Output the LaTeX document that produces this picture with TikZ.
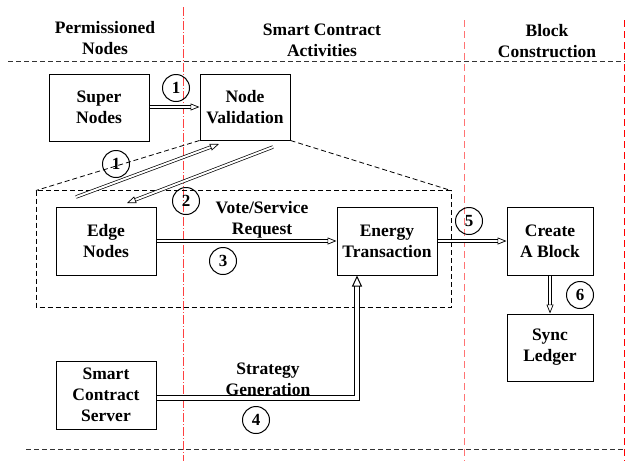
\documentclass[tikz,border=0pt]{standalone}
\usepackage{fontspec}
\setmainfont{Liberation Serif}
\usetikzlibrary{arrows.meta}

\tikzset{
    box/.style={draw, line width=1pt, align=center, inner sep=0pt,
        font=\fontsize{17.5}{21}\selectfont\bfseries},
    head/.style={align=center, font=\fontsize{17.5}{21}\selectfont\bfseries},
    num/.style={draw, circle, line width=1pt, minimum size=27pt, inner sep=0pt,
        font=\fontsize{17}{17}\selectfont\bfseries},
    flow/.style={double=white, double distance=2pt, line width=0.7pt,
        -{Triangle[open, length=9pt, width=7pt]}},
    bigflow/.style={double=white, double distance=3.5pt, line width=1pt,
        -{Triangle[open, length=11pt, width=10pt]}},
    sep/.style={dash pattern=on 5pt off 3pt, line width=1pt, black!80},
    group/.style={dash pattern=on 5pt off 3pt, line width=0.8pt},
}

\begin{document}
\begin{tikzpicture}[x=1pt, y=-1pt]
    \useasboundingbox (0,0) rectangle (631,461);
    % lanes
    \draw[red!75, line width=0.9pt, dash pattern=on 9pt off 2pt on 1pt off 2pt] (183,7) -- (183,461);
    \draw[red!55, line width=1pt, dash pattern=on 7pt off 4pt] (464,20) -- (464,461);
    \draw[red, line width=0.9pt, dash pattern=on 7pt off 4pt] (624,20) -- (624,461);
    \draw[sep] (8,61) -- (625,61);
    \draw[sep] (26,449) -- (625,449);

    \node[head] (hperm) at (105,38) {Permissioned\\Nodes};
    \node[head] (hsmart) at (322,40) {Smart Contract\\Activities};
    \node[head] (hblock) at (547,41) {Block\\Construction};

    \node[box, minimum width=100pt, minimum height=67pt] (super) at (99,107.5) {Super\\Nodes};
    \node[box, minimum width=90pt, minimum height=66pt] (valid) at (245,107) {Node\\Validation};
    \node[box, minimum width=100pt, minimum height=68pt] (edge) at (106,241) {Edge\\Nodes};
    \node[box, minimum width=100pt, minimum height=68pt] (energy) at (387,241) {Energy\\Transaction};
    \node[box, minimum width=86pt, minimum height=68pt] (block) at (550,241) {Create\\A Block};
    \node[box, minimum width=86pt, minimum height=67pt] (sync) at (550,347.5) {Sync\\Ledger};
    \node[box, minimum width=100pt, minimum height=68pt] (server) at (106,395) {Smart\\Contract\\Server};

    % edge group
    \coordinate (gnw) at (36,190.5);
    \coordinate (gse) at (451,307);
    \draw[group] (gnw) rectangle (gse);
    \draw[group] (valid.south west) -- (gnw);
    \draw[group] (valid.south east) -- (gse |- gnw);

    \coordinate (a1) at (76,197);
    \coordinate (b1) at (219,144);
    \coordinate (a2) at (273,147);
    \coordinate (b2) at (127,203);

    \draw[flow] (super.east |- 0,107) -- (valid.west |- 0,107);
    \draw[flow] (a1) -- (b1);
    \draw[flow] (a2) -- (b2);
    \draw[flow] (edge) -- (energy);
    \draw[bigflow] (server.east |- 0,398) -| ([xshift=-30pt]energy.south);
    \draw[flow] (energy) -- (block);
    \draw[flow] (block) -- (sync);

    \node[head] (vote) at (262,220) {Vote/Service\\Request};
    \node[head] (strat) at (268,379) {Strategy\\Generation};

    \node[num] (n1a) at (176,88) {1};
    \node[num] (n1b) at (116,164) {1};
    \node[num] (n2) at (186,201) {2};
    \node[num] (n3) at (223,261) {3};
    \node[num] (n4) at (256,420) {4};
    \node[num] (n5) at (469,221) {5};
    \node[num] (n6) at (580,295) {6};
\end{tikzpicture}
\end{document}
